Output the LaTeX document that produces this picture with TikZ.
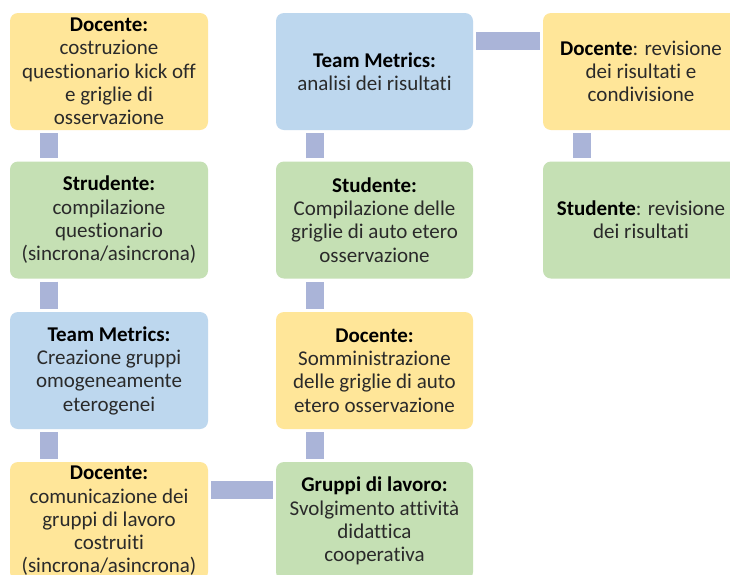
\documentclass[tikz,border=0pt]{standalone}
\usepackage{fontspec}
\setmainfont{Carlito}[Ligatures=NoCommon]
\usetikzlibrary{calc}
\definecolor{yel}{HTML}{FFE699}
\definecolor{grn}{HTML}{C5E0B4}
\definecolor{blu}{HTML}{BDD7EE}
\definecolor{bar}{HTML}{AAB4D8}
\definecolor{txt}{HTML}{2A2A2A}
\tikzset{
  box/.style={rounded corners=8pt, minimum width=198pt, minimum height=117pt, align=center, text=txt,
    inner sep=0pt, font=\fontsize{21}{23.3}\selectfont},
  conn/.style={draw=bar, line width=17.5pt, line cap=butt},
}
\begin{document}
\begin{tikzpicture}[x=1pt,y=-1pt]
\clip (0,0) rectangle (730,574);
\fill[white] (0,0) rectangle (730,574);
% column A
\node[box, fill=yel] (A1) at (109,71.5) {\textbf{\color{black}Docente:}\\costruzione\\questionario kick off\\e griglie di\\osservazione};
\node[box, fill=grn] (A2) at (109,220) {\textbf{\color{black}Strudente:}\\compilazione\\questionario\\(sincrona/asincrona)};
\node[box, fill=blu] (A3) at (109,370.5) {\textbf{\color{black}Team Metrics:}\\Creazione gruppi\\omogeneamente\\eterogenei};
\node[box, fill=yel, minimum height=118pt] (A4) at (109,521) {\raisebox{4pt}{\parbox{198pt}{\centering\textbf{\color{black}Docente:}\\comunicazione dei\\gruppi di lavoro\\costruiti\\(sincrona/asincrona)}}};
% column B
\node[box, fill=blu, minimum width=197pt] (B1) at (374.5,71.5) {\textbf{\color{black}Team Metrics:}\\analisi dei risultati};
\node[box, fill=grn, minimum width=197pt] (B2) at (374.5,220) {\textbf{\color{black}Studente:}\\Compilazione delle\\griglie di auto etero\\osservazione};
\node[box, fill=yel, minimum width=197pt] (B3) at (374.5,370.5) {\textbf{\color{black}Docente:}\\Somministrazione\\delle griglie di auto\\etero osservazione};
\node[box, fill=grn, minimum width=197pt, minimum height=118pt] (B4) at (374.5,521) {\raisebox{2.5pt}{\parbox{197pt}{\centering\textbf{\color{black}Gruppi di lavoro:}\\Svolgimento attività\\didattica\\cooperativa}}};
% column C
\node[box, fill=yel, minimum width=196pt] (C1) at (641,71.5) {\textbf{\color{black}Docente}: revisione\\dei risultati e\\condivisione};
\node[box, fill=grn, minimum width=196pt] (C2) at (641,220) {\textbf{\color{black}Studente}: revisione\\dei risultati};
% connectors
\draw[conn, shorten <=3pt, shorten >=3pt] ([xshift=39pt]A1.south west) -- ([xshift=39pt]A2.north west);
\draw[conn, shorten <=3pt, shorten >=3pt] ([xshift=39pt]A2.south west) -- ([xshift=39pt]A3.north west);
\draw[conn, shorten <=3pt, shorten >=3pt] ([xshift=39pt]A3.south west) -- ([xshift=39pt]A4.north west);
\draw[conn, shorten <=3pt, shorten >=3pt] ([yshift=-28pt]A4.north east) -- ([yshift=-28pt]B4.north west);
\draw[conn, shorten <=3pt, shorten >=3pt] ([xshift=39pt]B4.north west) -- ([xshift=39pt]B3.south west);
\draw[conn, shorten <=3pt, shorten >=3pt] ([xshift=39pt]B3.north west) -- ([xshift=39pt]B2.south west);
\draw[conn, shorten <=3pt, shorten >=3pt] ([xshift=39pt]B2.north west) -- ([xshift=39pt]B1.south west);
\draw[conn, shorten <=3pt, shorten >=3pt] ([yshift=-28pt]B1.north east) -- ([yshift=-28pt]C1.north west);
\draw[conn, shorten <=3pt, shorten >=3pt] ([xshift=39pt]C1.south west) -- ([xshift=39pt]C2.north west);
\end{tikzpicture}
\end{document}
